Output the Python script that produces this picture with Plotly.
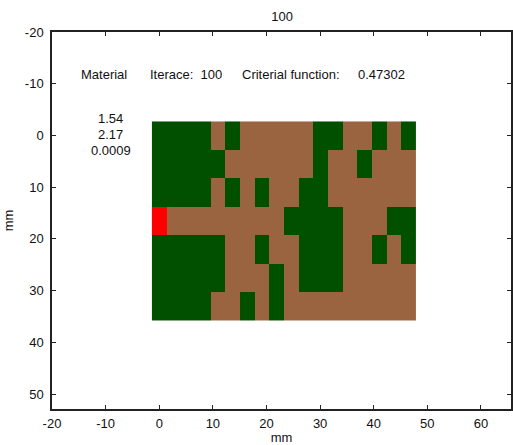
import plotly.graph_objects as go

# Material layout after the optimisation run: G = material A, B = material B, R = source cell
grid_rows = [
    "GGGGBGBBBBBGGBBGBG",
    "GGGGGBBBBBBGBBGBBB",
    "GGGGBGBGBBGGBBBBBB",
    "RBBBBBBBBGGGGBBBGG",
    "GGGGGBBGBBGGGBBGBG",
    "GGGGGBBBGBGGGBBBBB",
    "GGGGBBGBGBBBBBBBBB",
]
material_codes = {"G": 0, "B": 1, "R": 2}
material_colors = ["#005000", "#9B6440", "#FF0000"]

cell_width = 2.73   # mm
cell_height = 5.5   # mm
grid_y0 = 0.05

iteration = 100
criterion_value = "0.47302"
material_params = ["1.54", "2.17", "0.0009"]

x_ticks = [-20, -10, 0, 10, 20, 30, 40, 50, 60]
y_ticks = [-20, -10, 0, 10, 20, 30, 40, 50]

z = [[material_codes[c] for c in row] for row in grid_rows]
n_cols = len(grid_rows[0])
x_centers = [i * cell_width for i in range(n_cols)]
y_centers = [grid_y0 + j * cell_height for j in range(len(grid_rows))]

colorscale = []
n = len(material_colors)
for k, col in enumerate(material_colors):
    colorscale.append([k / n, col])
    colorscale.append([(k + 1) / n, col])

fig = go.Figure(
    go.Heatmap(
        z=z, x=x_centers, y=y_centers,
        zmin=-0.5, zmax=n - 0.5,
        colorscale=colorscale, showscale=False, hoverinfo="skip",
    )
)

font = dict(family="Liberation Sans, Arial, sans-serif", size=13, color="#111")

# Header line of text
header = [(-14.9, "Material"), (-2.1, f"Iterace:  {iteration}"),
          (15.0, "Criterial function:"), (36.6, criterion_value)]
for xv, txt in header:
    fig.add_annotation(x=xv, y=-11.8, text=txt, showarrow=False,
                       xanchor="left", yanchor="middle", font=font)

# Material parameters, stacked
for yv, txt in zip([-3.2, -0.1, 2.9], material_params):
    fig.add_annotation(x=-9.0, y=yv, text=txt, showarrow=False,
                       xanchor="center", yanchor="middle", font=font)

axis_common = dict(
    showgrid=False, zeroline=False, showline=True, linecolor="#222",
    linewidth=1.5, mirror="ticks", ticks="inside", ticklen=4,
    tickcolor="#222", tickfont=font,
)

fig.update_layout(
    width=513, height=445,
    margin=dict(l=52, r=0, t=32, b=36),
    paper_bgcolor="white", plot_bgcolor="white",
    font=font,
    title=dict(text=str(iteration), x=0.55, xanchor="center",
               y=1 - 16 / 445, yanchor="middle", font=font),
    xaxis=dict(range=[-20, 65.6], tickvals=x_ticks,
               ticktext=[str(v) for v in x_ticks], ticklabelstandoff=2,
               title=dict(text="mm", font=font, standoff=2), **axis_common),
    yaxis=dict(range=[52.9, -20], tickvals=y_ticks,
               ticktext=[str(v) for v in y_ticks], ticklabelstandoff=4,
               title=dict(text="mm", font=font, standoff=8), **axis_common),
)

fig.write_html("out.html")
